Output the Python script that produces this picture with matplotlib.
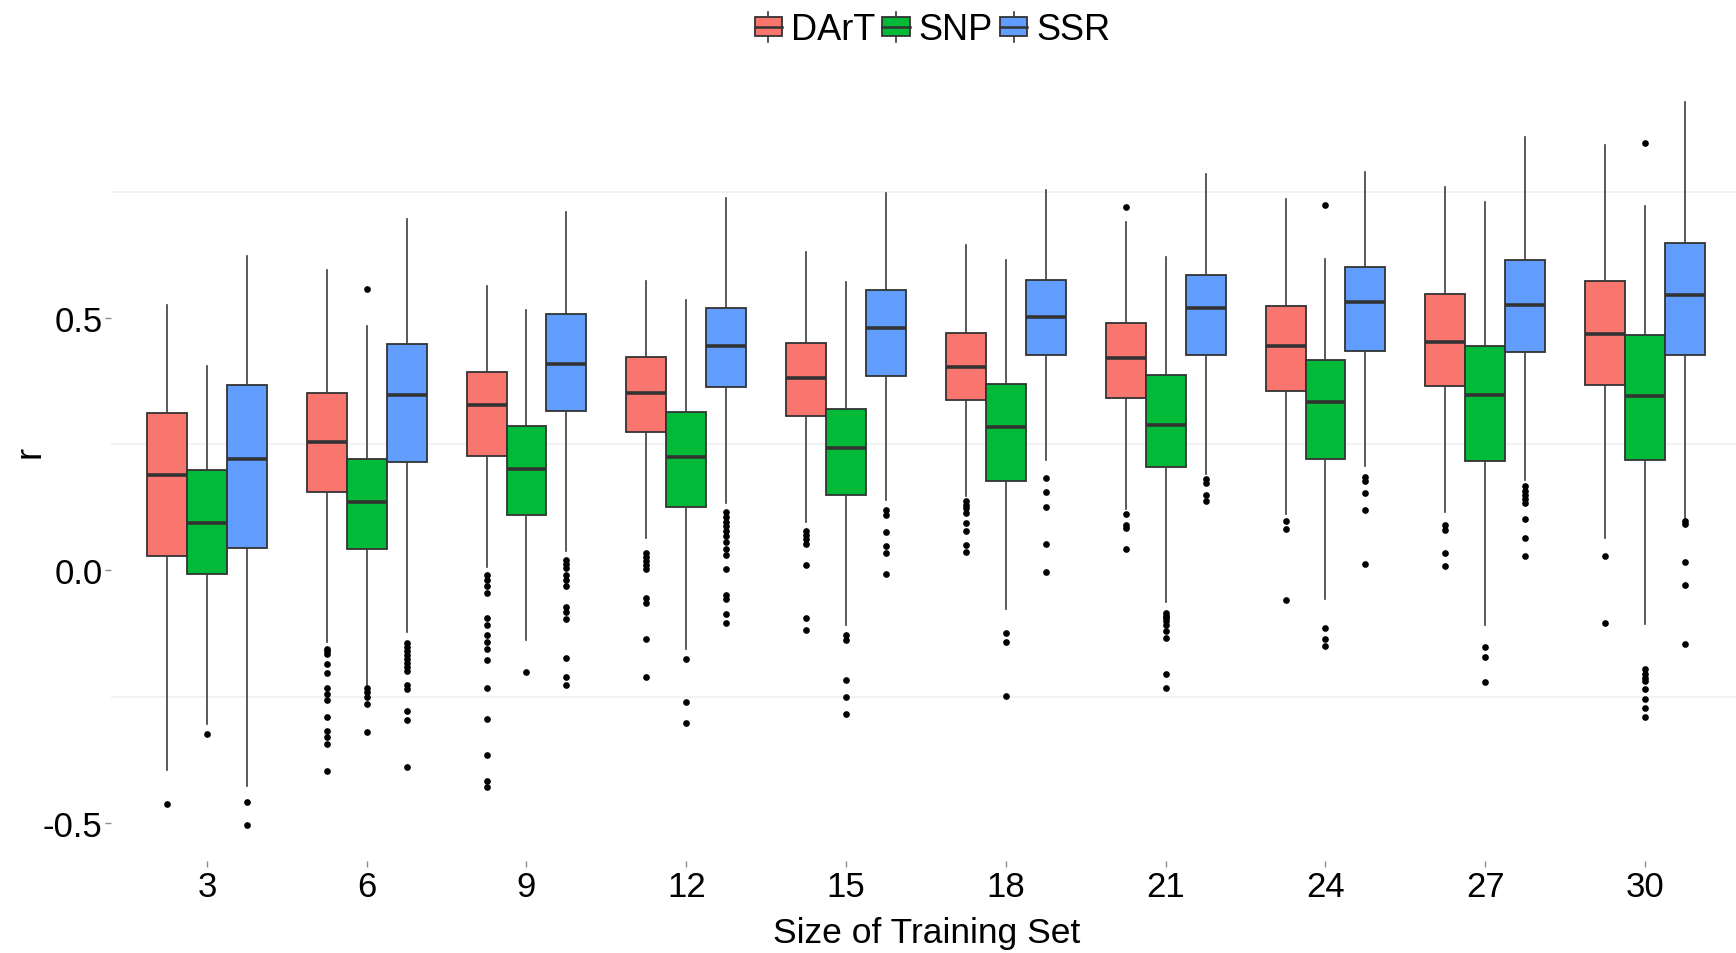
import matplotlib
matplotlib.use("Agg")
import matplotlib.pyplot as plt
from matplotlib.legend_handler import HandlerBase
from matplotlib.patches import Patch, Rectangle
from matplotlib.lines import Line2D

plt.rcParams['font.family'] = ['Liberation Sans', 'DejaVu Sans']

sizes = [3, 6, 9, 12, 15, 18, 21, 24, 27, 30]
markers = ['DArT', 'SNP', 'SSR']
colors = ['#F8766D', '#00BA38', '#619CFF']

# DArT summary stats per training-set size
dart_hi = [0.525, 0.594, 0.562, 0.573, 0.631, 0.645, 0.689, 0.736, 0.759, 0.843]
dart_q3 = [0.312, 0.352, 0.392, 0.422, 0.450, 0.470, 0.490, 0.523, 0.547, 0.573]
dart_med = [0.188, 0.255, 0.327, 0.351, 0.380, 0.403, 0.421, 0.444, 0.453, 0.467]
dart_q1 = [0.028, 0.156, 0.227, 0.274, 0.305, 0.338, 0.341, 0.355, 0.364, 0.366]
dart_lo = [-0.395, -0.142, 0.007, 0.064, 0.096, 0.147, 0.121, 0.112, 0.116, 0.064]
dart_out = [
    [-0.462],
    [-0.155, -0.160, -0.165, -0.185, -0.203, -0.233, -0.245, -0.256, -0.290, -0.319, -0.330, -0.344, -0.398],
    [-0.010, -0.020, -0.032, -0.045, -0.095, -0.108, -0.128, -0.142, -0.156, -0.178, -0.233, -0.294, -0.365, -0.418, -0.430],
    [0.035, 0.027, 0.019, 0.010, 0.002, -0.054, -0.065, -0.136, -0.212],
    [0.077, 0.070, 0.062, 0.052, 0.010, -0.094, -0.119],
    [0.137, 0.130, 0.124, 0.113, 0.094, 0.077, 0.051, 0.037],
    [0.719, 0.112, 0.090, 0.083, 0.043],
    [0.098, 0.081, -0.058],
    [0.090, 0.080, 0.034, 0.009],
    [0.029, -0.105],
]

# SNP
snp_hi = [0.405, 0.484, 0.515, 0.536, 0.571, 0.615, 0.620, 0.617, 0.730, 0.721]
snp_q3 = [0.198, 0.221, 0.285, 0.314, 0.320, 0.369, 0.386, 0.416, 0.445, 0.465]
snp_med = [0.094, 0.135, 0.200, 0.224, 0.243, 0.283, 0.288, 0.333, 0.348, 0.345]
snp_q1 = [-0.008, 0.042, 0.109, 0.126, 0.149, 0.176, 0.204, 0.221, 0.216, 0.219]
snp_lo = [-0.305, -0.228, -0.139, -0.156, -0.109, -0.077, -0.063, -0.056, -0.109, -0.106]
snp_out = [
    [-0.325],
    [0.557, -0.233, -0.240, -0.251, -0.264, -0.320],
    [-0.201],
    [-0.175, -0.261, -0.302],
    [-0.129, -0.139, -0.218, -0.251, -0.285],
    [-0.125, -0.142, -0.249],
    [-0.085, -0.090, -0.095, -0.101, -0.109, -0.121, -0.135, -0.206, -0.233],
    [0.723, -0.114, -0.136, -0.149],
    [-0.151, -0.172, -0.221],
    [0.847, -0.195, -0.205, -0.213, -0.220, -0.236, -0.254, -0.272, -0.291],
]

# SSR
ssr_hi = [0.622, 0.696, 0.710, 0.737, 0.748, 0.753, 0.784, 0.789, 0.858, 0.927]
ssr_q3 = [0.366, 0.448, 0.507, 0.519, 0.555, 0.575, 0.584, 0.601, 0.614, 0.648]
ssr_med = [0.220, 0.348, 0.408, 0.444, 0.479, 0.502, 0.519, 0.531, 0.525, 0.545]
ssr_q1 = [0.045, 0.214, 0.315, 0.362, 0.384, 0.427, 0.426, 0.435, 0.433, 0.427]
ssr_lo = [-0.427, -0.122, 0.039, 0.133, 0.139, 0.219, 0.190, 0.207, 0.178, 0.102]
ssr_out = [
    [-0.459, -0.505],
    [-0.144, -0.152, -0.160, -0.168, -0.176, -0.184, -0.192, -0.200, -0.228, -0.235, -0.279, -0.297, -0.389],
    [0.020, 0.012, 0.004, -0.010, -0.020, -0.031, -0.073, -0.082, -0.096, -0.173, -0.211, -0.227],
    [0.115, 0.106, 0.096, 0.087, 0.077, 0.068, 0.056, 0.042, 0.030, 0.002, -0.049, -0.056, -0.087, -0.104],
    [0.120, 0.109, 0.075, 0.049, 0.034, -0.007],
    [0.183, 0.156, 0.125, 0.052, -0.003],
    [0.180, 0.172, 0.150, 0.137],
    [0.185, 0.177, 0.154, 0.119, 0.013],
    [0.166, 0.158, 0.150, 0.142, 0.133, 0.101, 0.064, 0.029],
    [0.097, 0.092, 0.016, -0.030, -0.146],
]

series = [
    (dart_lo, dart_q1, dart_med, dart_q3, dart_hi, dart_out),
    (snp_lo, snp_q1, snp_med, snp_q3, snp_hi, snp_out),
    (ssr_lo, ssr_q1, ssr_med, ssr_q3, ssr_hi, ssr_out),
]

EDGE = '#333333'


class BoxKey(HandlerBase):
    # little boxplot glyph for the legend keys
    def create_artists(self, legend, orig_handle, xdescent, ydescent,
                       width, height, fontsize, trans):
        x0, y0 = -xdescent, -ydescent
        cx = x0 + width / 2
        whisk = Line2D([cx, cx], [y0 - 0.08 * height, y0 + 1.08 * height],
                       color=EDGE, lw=1.2, transform=trans)
        box = Rectangle((x0, y0 + 0.14 * height), width, 0.72 * height,
                        facecolor=orig_handle.get_facecolor(), edgecolor=EDGE,
                        lw=1.3, transform=trans)
        med = Line2D([x0, x0 + width], [y0 + height / 2] * 2,
                     color=EDGE, lw=1.8, transform=trans)
        return [whisk, box, med]


fig = plt.figure(figsize=(17.36, 9.54), dpi=100)

# y range with ggplot-style 5% padding
all_vals = []
for s in series:
    all_vals += s[0] + s[4]
    for o in s[5]:
        all_vals += o
lo, hi = min(all_vals), max(all_vals)
pad = 0.05 * (hi - lo)
ylo, yhi = lo - pad, hi + pad

# zero sits at 571 px from the top, 505 px per unit
H = 954.0
top_px = 571.3 - yhi * 505
bot_px = 571.3 - ylo * 505
left_px = 111.0
ax = fig.add_axes([left_px / 1736, 1 - bot_px / H, 1 - left_px / 1736, (bot_px - top_px) / H])
ax.set_ylim(ylo, yhi)
ax.set_xlim(0.4, 0.4 + (1736 - left_px) / 159.8)

offsets = [-0.25, 0.0, 0.25]
for k, (s_lo, s_q1, s_med, s_q3, s_hi, s_out) in enumerate(series):
    stats = []
    for i in range(len(sizes)):
        stats.append(dict(whislo=s_lo[i], q1=s_q1[i], med=s_med[i],
                          q3=s_q3[i], whishi=s_hi[i], fliers=s_out[i]))
    pos = [i + 1 + offsets[k] for i in range(len(sizes))]
    ax.bxp(stats, positions=pos, widths=0.25, showcaps=False,
           patch_artist=True, manage_ticks=False,
           boxprops=dict(facecolor=colors[k], edgecolor=EDGE, linewidth=1.3),
           medianprops=dict(color=EDGE, linewidth=2.6),
           whiskerprops=dict(color='#3d3d3d', linewidth=1.2),
           flierprops=dict(marker='o', markerfacecolor='black',
                           markeredgecolor='black', markersize=3.8, linestyle='none'))

# only the minor grid is shown
for g in [-0.25, 0.25, 0.75]:
    ax.axhline(g, color='#F0F0F0', lw=1.2, zorder=0)

ax.set_xticks(range(1, len(sizes) + 1))
ax.set_xticklabels([str(s) for s in sizes])
ax.set_yticks([-0.5, 0.0, 0.5])
ax.set_yticklabels(['-0.5', '0.0', '0.5'])
ax.tick_params(axis='both', labelsize=25, length=4, width=1, color='#8C8C8C', pad=2)
for sp in ax.spines.values():
    sp.set_visible(False)

fig.text(926.6 / 1736, 1 - 934 / H, 'Size of Training Set', fontsize=25.5,
         ha='center', va='center')
fig.text(30 / 1736, 1 - 452 / H, 'r', fontsize=26, rotation=90,
         ha='center', va='center')

handles = [Patch(facecolor=c) for c in colors]
fig.legend(handles, markers, handler_map={Patch: BoxKey()}, ncol=3,
           loc='center', bbox_to_anchor=(932.5 / 1736, 1 - 31 / H),
           frameon=False, fontsize=26, handlelength=0.75, handleheight=0.75,
           handletextpad=0.25, columnspacing=0.2, borderpad=0, borderaxespad=0)

fig.savefig('out.png', dpi=100)
